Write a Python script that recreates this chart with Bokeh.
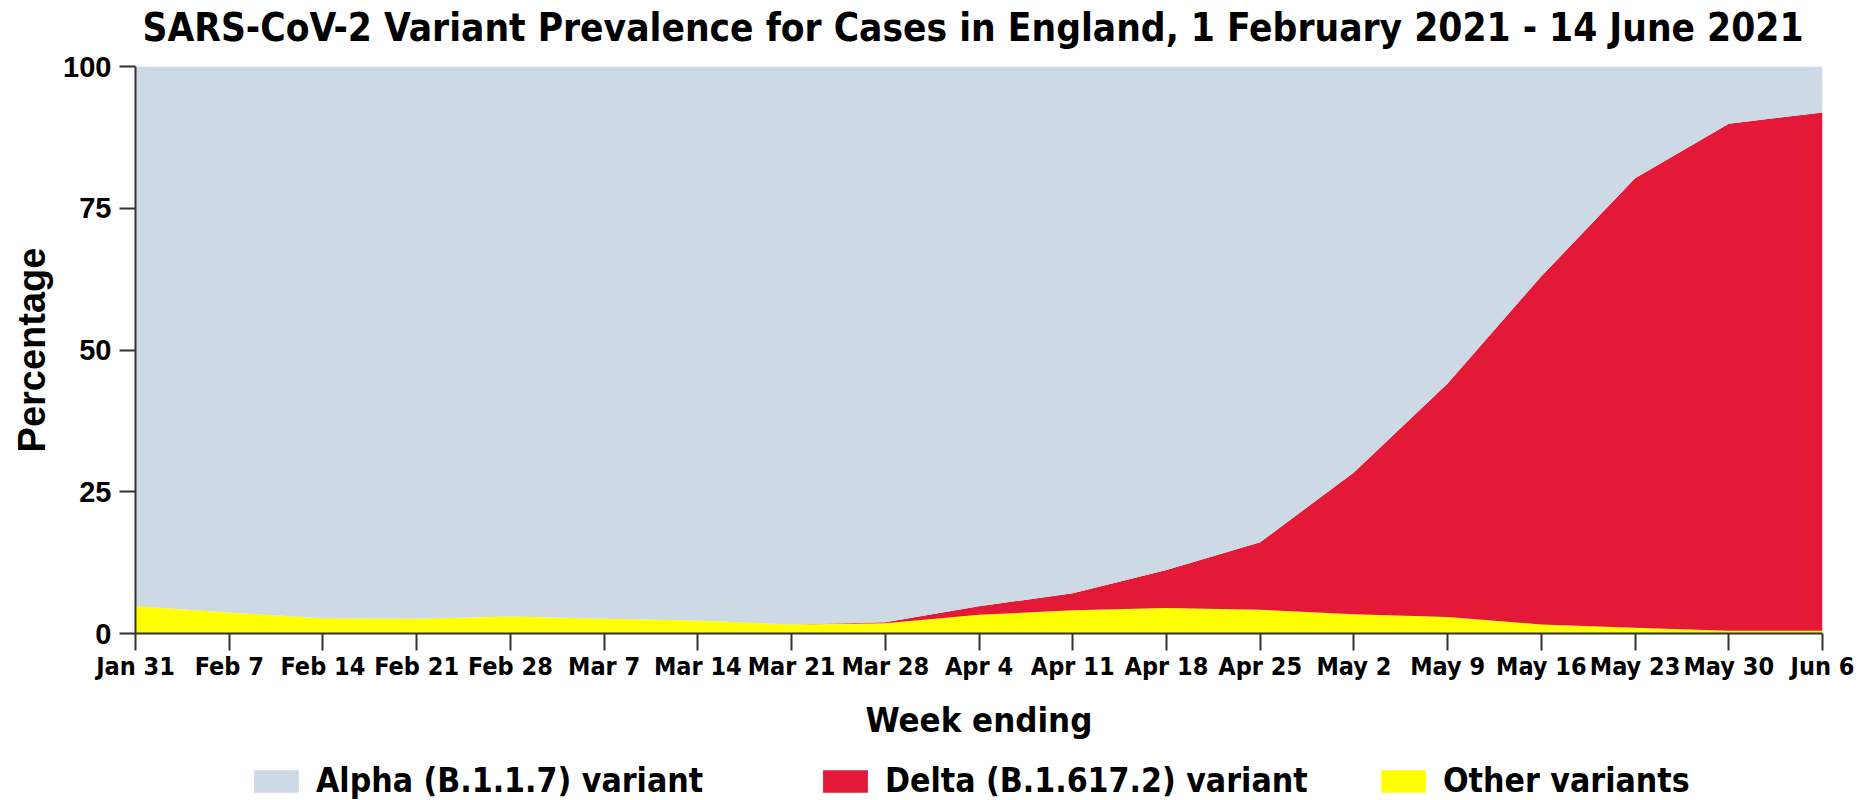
from bokeh.plotting import figure
from bokeh.models import ColumnDataSource, FixedTicker, Legend, LegendItem, Range1d, Label
from bokeh.layouts import column
from bokeh.embed import file_html
from bokeh.resources import INLINE

weeks = ["Jan 31", "Feb 7", "Feb 14", "Feb 21", "Feb 28", "Mar 7", "Mar 14", "Mar 21",
         "Mar 28", "Apr 4", "Apr 11", "Apr 18", "Apr 25", "May 2", "May 9", "May 16",
         "May 23", "May 30", "Jun 6"]
other = [4.8, 3.7, 2.7, 2.6, 3.0, 2.6, 2.3, 1.6, 1.8, 3.3, 4.1, 4.5, 4.2, 3.4, 2.9, 1.6, 1.0, 0.5, 0.5]
delta = [0.0, 0.0, 0.0, 0.0, 0.0, 0.0, 0.0, 0.0, 0.2, 1.5, 3.0, 6.7, 11.9, 25.0, 41.2, 61.4, 79.3, 89.4, 91.4]
alpha = [95.2, 96.3, 97.3, 97.4, 97.0, 97.4, 97.7, 98.4, 98.0, 95.2, 92.9, 88.8, 83.9, 71.6, 55.9, 37.0, 19.7, 10.1, 8.1]
yticks = [0, 25, 50, 75, 100]
labels = ["Alpha (B.1.1.7) variant", "Delta (B.1.617.2) variant", "Other variants"]
title_text = "SARS-CoV-2 Variant Prevalence for Cases in England, 1 February 2021 - 14 June 2021"

C_ALPHA = "#CDD9E5"
C_DELTA = "#E41937"
C_OTHER = "#FFFF00"

NARROW = "DejaVu Sans Condensed"
WIDE = "Liberation Sans"

src = ColumnDataSource(dict(x=list(range(len(weeks))), other=other, delta=delta, alpha=alpha))

# ---- title strip ----
pt = figure(width=1870, height=50, x_range=Range1d(0, len(weeks) - 1), y_range=Range1d(0, 1),
            output_backend="svg", toolbar_location=None, min_border=0,
            x_axis_location=None, y_axis_location=None)
pt.outline_line_color = None
pt.grid.visible = False
pt.add_layout(Label(x=(len(weeks) - 1) / 2, x_units="data", y=23.5, y_units="screen", x_offset=-6,
                    text=title_text, text_align="center", text_baseline="middle",
                    text_font=NARROW, text_font_style="bold", text_font_size="38.5px",
                    text_color="black"))

# ---- main chart ----
p = figure(width=1870, height=712, x_range=Range1d(0, len(weeks) - 1), y_range=Range1d(0, 100),
           output_backend="svg", toolbar_location=None,
           min_border_left=135, min_border_right=48, min_border_top=16, min_border_bottom=129)
p.outline_line_color = None
p.grid.visible = False
p.background_fill_color = "white"

rs = p.varea_stack(stackers=["other", "delta", "alpha"], x="x",
                   color=[C_OTHER, C_DELTA, C_ALPHA], source=src)

xa = p.xaxis[0]
xa.ticker = FixedTicker(ticks=list(range(len(weeks))))
xa.major_label_overrides = {i: w for i, w in enumerate(weeks)}
xa.major_tick_out = 17
xa.major_tick_in = 0
xa.minor_tick_line_color = None
xa.axis_line_width = 2
xa.axis_line_color = "#333333"
xa.major_tick_line_width = 2
xa.major_tick_line_color = "#333333"
xa.major_label_text_font = NARROW
xa.major_label_text_font_style = "bold"
xa.major_label_text_font_size = "25px"
xa.major_label_text_color = "black"
xa.major_label_standoff = 1
xa.axis_label = "Week ending"
xa.axis_label_text_font = NARROW
xa.axis_label_text_font_style = "bold"
xa.axis_label_text_font_size = "34.5px"
xa.axis_label_text_color = "black"
xa.axis_label_standoff = 16

ya = p.yaxis[0]
ya.ticker = FixedTicker(ticks=yticks)
ya.major_tick_out = 16
ya.major_tick_in = 0
ya.minor_tick_line_color = None
ya.axis_line_width = 2
ya.axis_line_color = "#333333"
ya.major_tick_line_width = 2
ya.major_tick_line_color = "#333333"
ya.major_label_text_font = WIDE
ya.major_label_text_font_style = "bold"
ya.major_label_text_font_size = "29px"
ya.major_label_text_color = "black"
ya.major_label_standoff = 8
ya.axis_label = "Percentage"
ya.axis_label_text_font = WIDE
ya.axis_label_text_font_style = "bold"
ya.axis_label_text_font_size = "38px"
ya.axis_label_text_color = "black"
ya.axis_label_standoff = 7

# ---- legend strip (its data lie outside its view; only the legend shows) ----
pl = figure(width=1870, height=38, x_range=Range1d(0, len(weeks) - 1), y_range=Range1d(200, 201),
            output_backend="svg", toolbar_location=None, min_border=0,
            x_axis_location=None, y_axis_location=None)
pl.outline_line_color = None
pl.grid.visible = False
rl = pl.varea_stack(stackers=["other", "delta", "alpha"], x="x",
                    color=[C_OTHER, C_DELTA, C_ALPHA], source=src)
swatches = [rl[2], rl[1], rl[0]]
xpos = [113, 682, 1240]
for lab, r, xo in zip(labels, swatches, xpos):
    leg = Legend(items=[LegendItem(label=lab, renderers=[r])], location=(xo, 0),
                 orientation="horizontal", background_fill_alpha=0, border_line_alpha=0,
                 padding=0, margin=0, glyph_width=56, glyph_height=28, label_standoff=12,
                 label_text_font=NARROW, label_text_font_style="bold",
                 label_text_font_size="33.5px", label_text_color="black")
    pl.add_layout(leg, "center")

layout = column(pt, p, pl, spacing=0)
open("out.html", "w").write(file_html(layout, INLINE))
